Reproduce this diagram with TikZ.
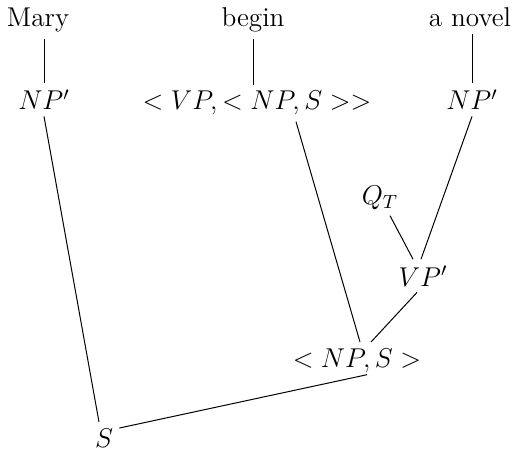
\documentclass[tikz,border=0pt]{standalone}
\RequirePackage{fix-cm}
\usepackage{tikz}

\begin{document}
\begin{tikzpicture}[x=0.5pt, y=-0.5pt,
  word/.style={font=\fontsize{13.6}{16}\selectfont, inner sep=3pt, anchor=base},
  branch/.style={line width=0.5pt}]
\useasboundingbox (0,0) rectangle (517,454);
% leaves
\node[word] (mary) at (38,27) {Mary};
\node[word] (begin) at (253,27) {begin};
\node[word] (novel) at (470,27) {a novel};
% translations
\node[word] (np1) at (44,110) {$NP'$};
\node[word] (vp) at (257,110) {$<VP,<NP,S>>$};
\node[word] (np3) at (472,110) {$NP'$};
% inner nodes
\node[word] (qt) at (380,204) {$Q_T$};
\node[word] (vpp) at (423,286) {$VP'$};
\node[word] (nps) at (357,367) {$<NP,S>$};
\node[word] (s) at (104,447) {$S$};
\draw[branch] (np1.north |- mary.south) -- (np1.north);
\draw[branch] (begin.south) -- (begin.south |- vp.north);
\draw[branch] (np3.north |- novel.south) -- (np3.north);
\draw[branch] (np1.south) -- ([xshift=-2.5pt]s.north);
\draw[branch] ([xshift=19.5pt]vp.south) -- ([xshift=1.5pt]nps.north);
\draw[branch] (np3.south) -- ([xshift=-1pt]vpp.north);
\draw[branch] ([xshift=5pt]qt.south) -- ([xshift=-5pt]vpp.north);
\draw[branch] ([xshift=-3pt]vpp.south) -- ([xshift=7pt]nps.north);
\draw[branch] ([xshift=5pt,yshift=2pt]nps.south) -- ([yshift=-3pt]s.north east);
\end{tikzpicture}
\end{document}
